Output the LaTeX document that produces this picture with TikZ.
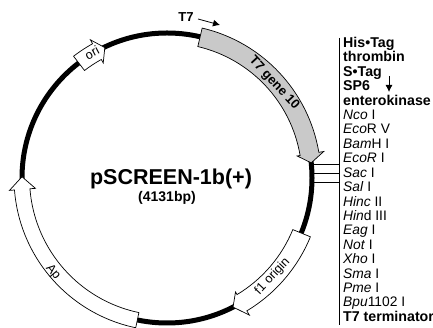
\documentclass[tikz,border=0pt]{standalone}
\usepackage{fontspec}
\setmainfont{Liberation Sans}
\usetikzlibrary{arrows.meta}
\definecolor{genegray}{HTML}{C9C9C9}
\newcommand{\arcarrow}[9]{% style, a0, a1, ri, ro, hi, ho, tipangle, tipr
  \path[#1] (#2:#5pt) arc[start angle=#2,end angle=#3,radius=#5pt]
    -- (#3:#7pt) -- (#8:#9pt) -- (#3:#6pt) -- (#3:#4pt)
    arc[start angle=#3,end angle=#2,radius=#4pt] -- cycle;}
\tikzset{
  x=1pt,y=1pt,
  feature/.style={draw=black,line width=0.7pt,fill=white,line join=miter},
  genefeature/.style={feature,fill=genegray},
  backbone/.style={draw=black,line width=5pt},
  leader/.style={draw=black,line width=0.7pt},
  arclabel/.style={font=\fontsize{12.6}{13}\selectfont,inner sep=0pt},
  sitelabel/.style={anchor=base west,inner sep=0pt,font=\fontsize{13.8}{14}\selectfont},
  boldlabel/.style={sitelabel,font=\fontsize{14.2}{15}\selectfont\bfseries},
  pointer/.style={draw=black,line width=0.8pt,-{Latex[length=7pt,width=7pt]}}
}
\begin{document}
\begin{tikzpicture}
\useasboundingbox (0,0) rectangle (433,328);
\coordinate (C) at (167,150);
\begin{scope}[shift={(C)}]
  \draw[backbone] (0,0) circle[radius=145pt];
  \arcarrow{genefeature}{76.8}{9.6}{135}{154}{132}{159}{6}{145}
  \arcarrow{feature}{127.5}{119}{135.5}{153.5}{131.5}{158}{115.5}{144.5}
  \arcarrow{feature}{-22.3}{-59}{136}{155}{133}{160}{-62.9}{145}
  \arcarrow{feature}{-101.8}{-175.5}{137.5}{153}{132}{158}{-180.5}{145}
\end{scope}
\node[arclabel,rotate=-47,font=\fontsize{13}{14}\selectfont\bfseries] (gene) at (274,245) {T7 gene 10};
\node[arclabel,rotate=28] (ori) at (92,275) {ori};
\node[arclabel,rotate=47] (f1) at (272.5,51.5) {f1 origin};
\node[arclabel,rotate=-50] (ap) at (53,56) {Ap};
\node[inner sep=0pt,font=\fontsize{21.5}{22}\selectfont\bfseries] (name) at (171,149) {pSCREEN-1b(+)};
\node[inner sep=0pt,font=\fontsize{14}{15}\selectfont\bfseries] (size) at (167,130) {(4131bp)};
\node[inner sep=0pt,font=\fontsize{13}{14}\selectfont\bfseries] (t7) at (186,311) {T7};
\coordinate (t7a) at (198,309);
\coordinate (t7b) at (220,303);
\draw[pointer] (t7a) -- (t7b);
\coordinate (lt) at (339,290);
\coordinate (lb) at (339,3);
\draw[leader] (lt) -- (lb);
\foreach \y [count=\i] in {164,155,146}{
  \coordinate (la\i) at (313,\y);
  \coordinate (lc\i) at (339,\y);
  \draw[leader] (la\i) -- (lc\i);
}
\node[boldlabel] (s1) at (343,280.5) {His•Tag};
\node[boldlabel] (s2) at (343,266) {thrombin};
\node[boldlabel] (s3) at (343,251.6) {S•Tag};
\node[boldlabel] (s4) at (343,237) {SP6};
\node[boldlabel] (s5) at (343,222.8) {enterokinase};
\node[sitelabel] (s6) at (343,208.4) {\textit{Nco} I};
\node[sitelabel] (s7) at (343,194) {\textit{Eco}R V};
\node[sitelabel] (s8) at (343,179.6) {\textit{Bam}H I};
\node[sitelabel] (s9) at (343,165) {\textit{EcoR} I};
\node[sitelabel] (s10) at (343,150.6) {\textit{Sac} I};
\node[sitelabel] (s11) at (343,136.2) {\textit{Sal} I};
\node[sitelabel] (s12) at (343,121.8) {\textit{Hinc} II};
\node[sitelabel] (s13) at (343,107.4) {\textit{Hin}d III};
\node[sitelabel] (s14) at (343,93) {\textit{Eag} I};
\node[sitelabel] (s15) at (343,78.6) {\textit{Not} I};
\node[sitelabel] (s16) at (343,64.2) {\textit{Xho} I};
\node[sitelabel] (s17) at (343,49.8) {\textit{Sma} I};
\node[sitelabel] (s18) at (343,35.4) {\textit{Pme} I};
\node[sitelabel] (s19) at (343,21) {\textit{Bpu}1102 I};
\node[boldlabel] (s20) at (343,6.6) {T7 terminator};
\coordinate (da) at (389,252);
\coordinate (db) at (389,236);
\draw[pointer] (da) -- (db);
\end{tikzpicture}
\end{document}
